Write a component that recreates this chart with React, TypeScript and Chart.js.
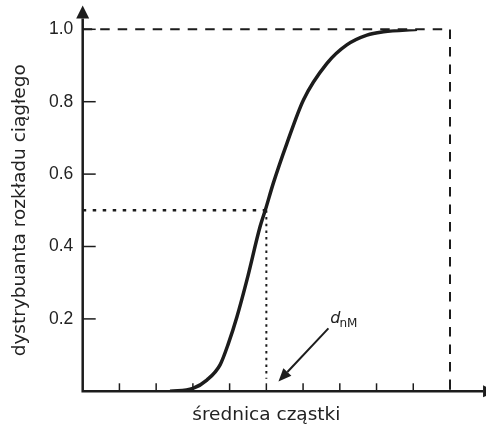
import React, { useEffect, useRef } from "react";
import { Chart, registerables } from "chart.js";

Chart.register(...registerables);

// ---- data ----
const curveX = [2.38, 3.0, 3.38, 3.74, 3.97, 4.2, 4.47, 4.83, 4.97, 5.19, 5.56, 6.01, 6.65, 7.19, 7.74, 8.19, 9.1];
const curveY = [0.0, 0.008, 0.031, 0.073, 0.133, 0.206, 0.307, 0.455, 0.5, 0.575, 0.685, 0.805, 0.906, 0.957, 0.984, 0.993, 1.0];

const dashedX = [0, 10, 10];
const dashedY = [1, 1, 0];

const dottedHX = [0, 5];
const dottedHY = [0.5, 0.5];
const dottedVX = [5, 5];
const dottedVY = [0.5, 0.035];

const yTickValues = [0.2, 0.4, 0.6, 0.8, 1.0];
const xTickValues = [1, 2, 3, 4, 5, 6, 7, 8, 9, 10];

const xAxisEnd = 10.9; // arrowhead base on x axis
const yAxisEnd = 1.03; // arrowhead base on y axis

const arrowFrom = [6.69, 0.174];
const arrowTo = [5.33, 0.027];
const labelPos = [6.74, 0.188];
const labelMain = "d";
const labelSub = "nM";

const xTitle = "średnica cząstki";
const yTitle = "dystrybuanta rozkładu ciągłego";

const INK = "#1c1c1c";
const TEXT = "#222222";
const FONT = "'DejaVu Sans', sans-serif";
const TICK_FONT = "'Liberation Sans', Arial, sans-serif";

const pts = (xs: number[], ys: number[]) => xs.map((x, i) => ({ x, y: ys[i] }));

const decorPlugin = {
  id: "decor",
  afterDraw(chart: any) {
    const ctx = chart.ctx as CanvasRenderingContext2D;
    const xs = chart.scales.x;
    const ys = chart.scales.y;
    const x0 = xs.getPixelForValue(0);
    const y0 = ys.getPixelForValue(0);
    ctx.save();
    ctx.strokeStyle = INK;
    ctx.fillStyle = INK;
    ctx.setLineDash([]);

    // y ticks (inward)
    ctx.lineWidth = 1.5;
    yTickValues.forEach((v) => {
      const y = ys.getPixelForValue(v);
      ctx.beginPath();
      ctx.moveTo(x0, y);
      ctx.lineTo(x0 + 13, y);
      ctx.stroke();
    });
    // x ticks (inward)
    xTickValues.forEach((v) => {
      const x = xs.getPixelForValue(v);
      ctx.beginPath();
      ctx.moveTo(x, y0);
      ctx.lineTo(x, y0 - 8);
      ctx.stroke();
    });

    // axes
    ctx.lineWidth = 2.5;
    const yTop = ys.getPixelForValue(yAxisEnd);
    const xRight = xs.getPixelForValue(xAxisEnd);
    ctx.beginPath();
    ctx.moveTo(x0, y0 + 1.2);
    ctx.lineTo(x0, yTop);
    ctx.moveTo(x0 - 1.2, y0);
    ctx.lineTo(xRight, y0);
    ctx.stroke();
    // arrowheads
    ctx.beginPath();
    ctx.moveTo(x0, yTop - 13);
    ctx.lineTo(x0 - 6.5, yTop);
    ctx.lineTo(x0 + 6.5, yTop);
    ctx.closePath();
    ctx.fill();
    ctx.beginPath();
    ctx.moveTo(xRight + 13, y0);
    ctx.lineTo(xRight, y0 - 6);
    ctx.lineTo(xRight, y0 + 6);
    ctx.closePath();
    ctx.fill();

    // annotation arrow
    const ax1 = xs.getPixelForValue(arrowFrom[0]);
    const ay1 = ys.getPixelForValue(arrowFrom[1]);
    const ax2 = xs.getPixelForValue(arrowTo[0]);
    const ay2 = ys.getPixelForValue(arrowTo[1]);
    const ang = Math.atan2(ay2 - ay1, ax2 - ax1);
    const hl = 13;
    const hw = 5.5;
    const bx = ax2 - hl * Math.cos(ang);
    const by = ay2 - hl * Math.sin(ang);
    ctx.lineWidth = 2;
    ctx.beginPath();
    ctx.moveTo(ax1, ay1);
    ctx.lineTo(bx, by);
    ctx.stroke();
    ctx.beginPath();
    ctx.moveTo(ax2, ay2);
    ctx.lineTo(bx + hw * Math.sin(ang), by - hw * Math.cos(ang));
    ctx.lineTo(bx - hw * Math.sin(ang), by + hw * Math.cos(ang));
    ctx.closePath();
    ctx.fill();

    // label d_nM
    const lx = xs.getPixelForValue(labelPos[0]);
    const ly = ys.getPixelForValue(labelPos[1]);
    ctx.fillStyle = TEXT;
    ctx.textAlign = "left";
    ctx.textBaseline = "alphabetic";
    ctx.font = `italic 16px ${FONT}`;
    ctx.fillText(labelMain, lx, ly);
    const w = ctx.measureText(labelMain).width;
    ctx.font = `12px ${FONT}`;
    ctx.fillText(labelSub, lx + w - 1, ly + 4);
    ctx.restore();
  },
};

export default function App() {
  const ref = useRef<HTMLCanvasElement | null>(null);

  useEffect(() => {
    document.body.style.margin = "0";
    const canvas = ref.current;
    if (!canvas) return;
    const chart = new Chart(canvas, {
      type: "line",
      data: {
        datasets: [
          {
            data: pts(curveX, curveY),
            borderColor: INK,
            borderWidth: 3.5,
            pointRadius: 0,
            cubicInterpolationMode: "monotone",
            fill: false,
            order: 0,
          },
          {
            data: pts(dashedX, dashedY),
            borderColor: INK,
            borderWidth: 2,
            borderDash: [9.5, 8],
            pointRadius: 0,
            tension: 0,
            fill: false,
            clip: false,
            order: 1,
          },
          {
            data: pts(dottedHX, dottedHY),
            borderColor: INK,
            borderWidth: 2.5,
            borderDash: [3.5, 6.5],
            pointRadius: 0,
            tension: 0,
            fill: false,
            clip: false,
            order: 2,
          },
          {
            data: pts(dottedVX, dottedVY),
            borderColor: INK,
            borderWidth: 2,
            borderDash: [2.5, 4.2],
            pointRadius: 0,
            tension: 0,
            fill: false,
            clip: false,
            order: 3,
          },
        ],
      },
      options: {
        animation: false,
        responsive: false,
        devicePixelRatio: 1,
        events: [],
        layout: { padding: { top: 29.3, right: 36, left: 0, bottom: 0 } },
        plugins: { legend: { display: false }, tooltip: { enabled: false } },
        scales: {
          x: {
            type: "linear",
            min: 0,
            max: 10,
            grid: { display: false, drawTicks: false },
            border: { display: false },
            ticks: { display: false },
            title: {
              display: true,
              text: xTitle,
              color: TEXT,
              font: { family: FONT, size: 18.5, weight: "normal" },
              padding: { top: 0, bottom: 1.5 },
            },
            afterFit: (s: any) => {
              s.height = 36.7;
              s.paddingLeft = 0;
              s.paddingRight = 0;
            },
          },
          y: {
            type: "linear",
            min: 0,
            max: 1,
            grid: { display: false, drawTicks: false },
            border: { display: false },
            afterBuildTicks: (s: any) => {
              s.ticks = yTickValues.map((v) => ({ value: v }));
            },
            ticks: {
              color: TEXT,
              padding: 9.4,
              font: { family: TICK_FONT, size: 17.5 },
              callback: (v: any) => Number(v).toFixed(1),
            },
            title: {
              display: true,
              text: yTitle,
              color: TEXT,
              font: { family: FONT, size: 18.5, weight: "normal" },
              padding: { top: 9, bottom: 0 },
            },
            afterFit: (s: any) => {
              s.width = 82.7;
              s.paddingTop = 0;
              s.paddingBottom = 0;
            },
          },
        },
      },
      plugins: [decorPlugin],
    } as any);
    return () => chart.destroy();
  }, []);

  return (
    <div style={{ width: 486, height: 428 }}>
      <canvas ref={ref} width={486} height={428} style={{ display: "block" }} />
    </div>
  );
}
